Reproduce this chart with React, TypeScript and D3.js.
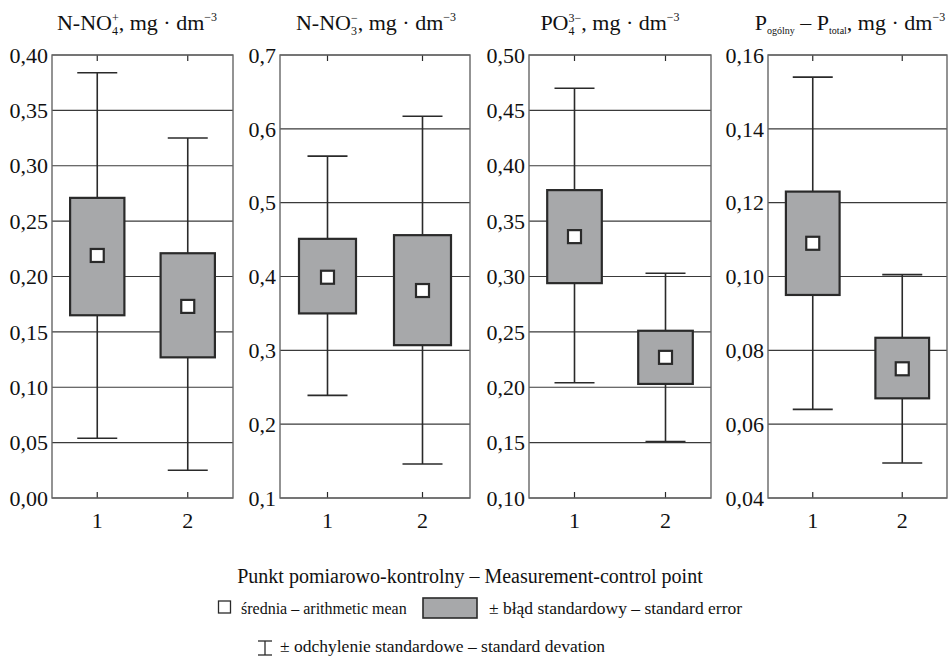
import React from "react";
import * as d3 from "d3";

// ---------- data ----------
const categories = ["1", "2"];

const nh4Mean = [0.219, 0.173];
const nh4SeLow = [0.165, 0.127];
const nh4SeHigh = [0.271, 0.221];
const nh4SdLow = [0.054, 0.025];
const nh4SdHigh = [0.384, 0.325];
const nh4Ticks = [0, 0.05, 0.1, 0.15, 0.2, 0.25, 0.3, 0.35, 0.4];

const no3Mean = [0.399, 0.381];
const no3SeLow = [0.35, 0.307];
const no3SeHigh = [0.451, 0.456];
const no3SdLow = [0.239, 0.146];
const no3SdHigh = [0.563, 0.617];
const no3Ticks = [0.1, 0.2, 0.3, 0.4, 0.5, 0.6, 0.7];

const po4Mean = [0.336, 0.227];
const po4SeLow = [0.294, 0.203];
const po4SeHigh = [0.378, 0.251];
const po4SdLow = [0.204, 0.151];
const po4SdHigh = [0.47, 0.303];
const po4Ticks = [0.1, 0.15, 0.2, 0.25, 0.3, 0.35, 0.4, 0.45, 0.5];

const ptotMean = [0.109, 0.075];
const ptotSeLow = [0.095, 0.067];
const ptotSeHigh = [0.123, 0.0834];
const ptotSdLow = [0.064, 0.0495];
const ptotSdHigh = [0.154, 0.1005];
const ptotTicks = [0.04, 0.06, 0.08, 0.1, 0.12, 0.14, 0.16];

const tickDecimals = [2, 1, 2, 2];

const axisTitle = "Punkt pomiarowo-kontrolny – Measurement-control point";
const legendMean = "średnia – arithmetic mean";
const legendSe = "± błąd standardowy – standard error";
const legendSd = "± odchylenie standardowe – standard devation";

// ---------- layout ----------
const W = 949;
const H = 658;
const plotTop = 55;
const plotBottom = 498;
const panelX: [number, number][] = [
  [52, 233],
  [280, 470],
  [529, 711],
  [768, 947],
];
const titleX = [137, 376, 610, 850];
const FONT = "Liberation Serif, DejaVu Serif, Times New Roman, serif";
const BOX_FILL = "#a7a8aa";
const DARK = "#2a2a2a";

const panels = [
  { mean: nh4Mean, seLow: nh4SeLow, seHigh: nh4SeHigh, sdLow: nh4SdLow, sdHigh: nh4SdHigh, ticks: nh4Ticks },
  { mean: no3Mean, seLow: no3SeLow, seHigh: no3SeHigh, sdLow: no3SdLow, sdHigh: no3SdHigh, ticks: no3Ticks },
  { mean: po4Mean, seLow: po4SeLow, seHigh: po4SeHigh, sdLow: po4SdLow, sdHigh: po4SdHigh, ticks: po4Ticks },
  { mean: ptotMean, seLow: ptotSeLow, seHigh: ptotSeHigh, sdLow: ptotSdLow, sdHigh: ptotSdHigh, ticks: ptotTicks },
];

function Title({ i }: { i: number }) {
  const fs = 22;
  const sfs = 12;
  const common = { x: titleX[i], y: 30, textAnchor: "middle" as const, fontSize: fs, style: { fontFamily: FONT }, fill: "#111" };
  if (i === 0)
    return (
      <text {...common}>
        N-NO
        <tspan fontSize={sfs} dy={5}>4</tspan>
        <tspan fontSize={sfs} dx={-6} dy={-13}>+</tspan>
        <tspan dy={8}>, mg · dm</tspan>
        <tspan fontSize={sfs} dy={-9}>−3</tspan>
      </text>
    );
  if (i === 1)
    return (
      <text {...common}>
        N-NO
        <tspan fontSize={sfs} dy={5}>3</tspan>
        <tspan fontSize={sfs} dx={-6} dy={-13}>−</tspan>
        <tspan dy={8}>, mg · dm</tspan>
        <tspan fontSize={sfs} dy={-9}>−3</tspan>
      </text>
    );
  if (i === 2)
    return (
      <text {...common}>
        PO
        <tspan fontSize={sfs} dy={5}>4</tspan>
        <tspan fontSize={sfs} dx={-6} dy={-13}>3−</tspan>
        <tspan dy={8}>, mg · dm</tspan>
        <tspan fontSize={sfs} dy={-9}>−3</tspan>
      </text>
    );
  return (
    <text {...common}>
      P
      <tspan fontSize={10} dy={4}>ogólny</tspan>
      <tspan dy={-4}> – P</tspan>
      <tspan fontSize={10} dy={4}>total</tspan>
      <tspan dy={-4}>, mg · dm</tspan>
      <tspan fontSize={sfs} dy={-9}>−3</tspan>
    </text>
  );
}

function Panel({ i }: { i: number }) {
  const p = panels[i];
  const [x0, x1] = panelX[i];
  const x = d3.scaleBand<string>().domain(categories).range([x0, x1]).padding(0);
  const y = d3
    .scaleLinear()
    .domain([p.ticks[0], p.ticks[p.ticks.length - 1]])
    .range([plotBottom, plotTop]);
  const fmt = (v: number) => d3.format(`.${tickDecimals[i]}f`)(v).replace(".", ",");
  const step = x.step();
  const boxW = step * 0.6;
  const capW = 40;
  const sq = 13;
  return (
    <g>
      {p.ticks.map((t) => (
        <line key={"g" + t} x1={x0} x2={x1} y1={y(t)} y2={y(t)} stroke="#3a3a3a" strokeWidth={1.2} />
      ))}
      {p.ticks.map((t) => (
        <text
          key={"l" + t}
          x={x0 - 4}
          y={y(t)}
          dy="0.35em"
          textAnchor="end"
          fontSize={22}
          style={{ fontFamily: FONT }}
          fill="#111"
        >
          {fmt(t)}
        </text>
      ))}
      {categories.map((c, k) => {
        const cx = (x(c) as number) + step / 2;
        return (
          <g key={c}>
            <line x1={cx} x2={cx} y1={y(p.sdLow[k])} y2={y(p.sdHigh[k])} stroke={DARK} strokeWidth={1.6} />
            <line x1={cx - capW / 2} x2={cx + capW / 2} y1={y(p.sdHigh[k])} y2={y(p.sdHigh[k])} stroke={DARK} strokeWidth={1.6} />
            <line x1={cx - capW / 2} x2={cx + capW / 2} y1={y(p.sdLow[k])} y2={y(p.sdLow[k])} stroke={DARK} strokeWidth={1.6} />
            <rect
              x={cx - boxW / 2}
              y={y(p.seHigh[k])}
              width={boxW}
              height={y(p.seLow[k]) - y(p.seHigh[k])}
              fill={BOX_FILL}
              stroke={DARK}
              strokeWidth={2.2}
            />
            <rect
              x={cx - sq / 2}
              y={y(p.mean[k]) - sq / 2}
              width={sq}
              height={sq}
              fill="#fff"
              stroke={DARK}
              strokeWidth={2.2}
            />
            <line x1={cx} x2={cx} y1={plotTop} y2={plotTop + 6} stroke={DARK} strokeWidth={1.2} />
            <line x1={cx} x2={cx} y1={plotBottom} y2={plotBottom - 6} stroke={DARK} strokeWidth={1.2} />
            <text x={cx} y={528} textAnchor="middle" fontSize={22} style={{ fontFamily: FONT }} fill="#111">
              {c}
            </text>
          </g>
        );
      })}
      <rect x={x0} y={plotTop} width={x1 - x0} height={plotBottom - plotTop} fill="none" stroke="#666" strokeWidth={1.4} />
      <Title i={i} />
    </g>
  );
}

export default function App() {
  return (
    <svg
      width={W}
      height={H}
      viewBox={`0 0 ${W} ${H}`}
      style={{ position: "absolute", left: 0, top: 0, background: "#fff" }}
    >
      <rect x={0} y={0} width={W} height={H} fill="#fff" />
      {panels.map((_, i) => (
        <Panel key={i} i={i} />
      ))}
      <text x={470} y={583} textAnchor="middle" fontSize={20} style={{ fontFamily: FONT }} fill="#111">
        {axisTitle}
      </text>
      {/* legend row 1 */}
      <rect x={218.5} y={601} width={12} height={12} fill="#fff" stroke={DARK} strokeWidth={1.3} />
      <text x={241} y={614} fontSize={16} style={{ fontFamily: FONT }} fill="#111">
        {legendMean}
      </text>
      <rect x={423} y={598} width={54} height={20} fill={BOX_FILL} stroke={DARK} strokeWidth={1.6} />
      <text x={489} y={614} fontSize={17.5} style={{ fontFamily: FONT }} fill="#111">
        {legendSe}
      </text>
      {/* legend row 2 */}
      <line x1={265} x2={265} y1={641} y2={655} stroke={DARK} strokeWidth={1.3} />
      <line x1={258} x2={272} y1={641} y2={641} stroke={DARK} strokeWidth={1.3} />
      <line x1={258} x2={272} y1={655} y2={655} stroke={DARK} strokeWidth={1.3} />
      <text x={280} y={652} fontSize={17.5} style={{ fontFamily: FONT }} fill="#111">
        {legendSd}
      </text>
    </svg>
  );
}
